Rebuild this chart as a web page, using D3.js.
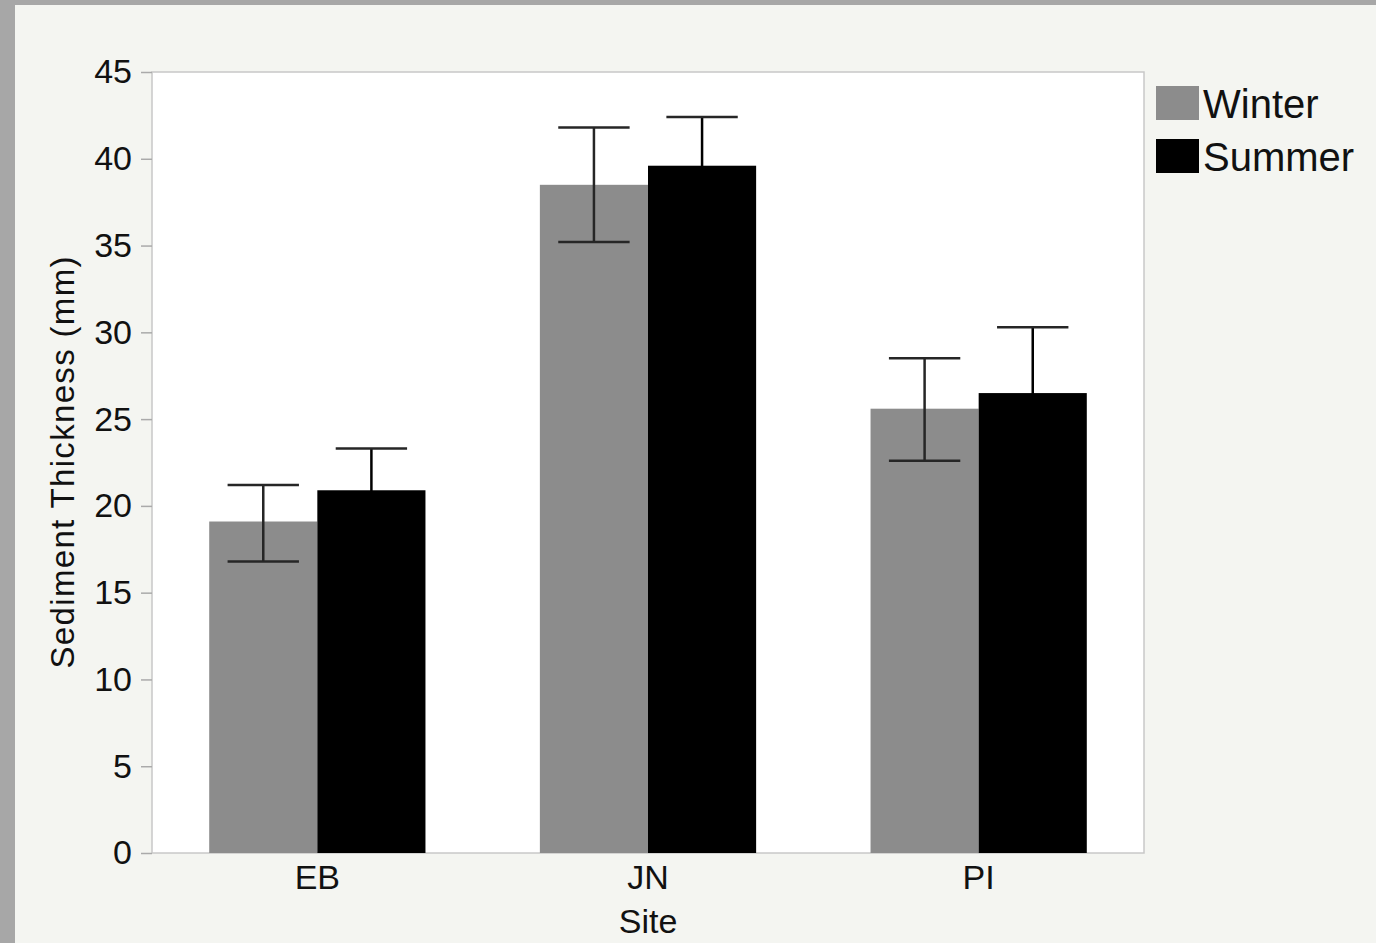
<!DOCTYPE html>
<html>
<head>
<meta charset="utf-8">
<script src="https://cdn.jsdelivr.net/npm/d3@7"></script>
<style>
  body { margin: 0; background: #a7a7a7; }
  .frame { position: absolute; left: 15px; top: 5px; width: 1361px; height: 938px; background: #f4f5f1; }
  text { font-family: "Liberation Sans", Arial, sans-serif; fill: #111; }
</style>
</head>
<body>
<div class="frame"></div>
<div class="canvas" style="position:absolute;left:0;top:0;"></div>
<script>
const sites = ["EB", "JN", "PI"];
const seasons = ["Winter", "Summer"];
const winterMean = [19.1, 38.5, 25.6];
const winterLow = [16.8, 35.2, 22.6];
const winterHigh = [21.2, 41.8, 28.5];
const summerMean = [20.9, 39.6, 26.5];
const summerLow = [18.5, 36.8, 22.8];
const summerHigh = [23.3, 42.4, 30.3];
const yTicks = [0, 5, 10, 15, 20, 25, 30, 35, 40, 45];

const colors = { Winter: "#8c8c8c", Summer: "#000000" };

const width = 1376, height = 943;
const margin = { top: 72, right: 232, bottom: 90, left: 152 };
const graphWidth = width - margin.left - margin.right;
const graphHeight = height - margin.top - margin.bottom;

const svg = d3.select(".canvas").append("svg")
  .attr("width", width)
  .attr("height", height);

const graph = svg.append("g")
  .attr("transform", `translate(${margin.left}, ${margin.top})`);

// build rows from arrays
const data = sites.map((s, i) => ({
  site: s,
  values: [
    { season: "Winter", mean: winterMean[i], low: winterLow[i], high: winterHigh[i] },
    { season: "Summer", mean: summerMean[i], low: summerLow[i], high: summerHigh[i] },
  ],
}));

const x0 = d3.scaleBand().domain(sites).range([0, graphWidth]).paddingInner(0.346).paddingOuter(0.173);
const x1 = d3.scaleBand().domain(seasons).range([0, x0.bandwidth()]);
const y = d3.scaleLinear().domain([0, 45]).range([graphHeight, 0]);

// plot background
graph.append("rect")
  .attr("width", graphWidth)
  .attr("height", graphHeight)
  .attr("fill", "#ffffff")
  .attr("stroke", "#c8c8c8")
  .attr("stroke-width", 1.5);

// bars
const groups = graph.selectAll(".site").data(data).enter().append("g")
  .attr("transform", (d) => `translate(${x0(d.site)}, 0)`);

groups.selectAll("rect").data((d) => d.values).enter().append("rect")
  .attr("x", (d) => x1(d.season))
  .attr("y", (d) => y(d.mean))
  .attr("width", x1.bandwidth())
  .attr("height", (d) => graphHeight - y(d.mean))
  .attr("fill", (d) => colors[d.season]);

// error bars (black on the summer bars so the lower half disappears)
const capW = x1.bandwidth() * 0.33;
const err = groups.selectAll(".err").data((d) => d.values).enter().append("g")
  .attr("stroke", (d) => (d.season === "Summer" ? "#000" : "#262626"))
  .attr("stroke-width", 2.5);
err.append("line")
  .attr("x1", (d) => x1(d.season) + x1.bandwidth() / 2)
  .attr("x2", (d) => x1(d.season) + x1.bandwidth() / 2)
  .attr("y1", (d) => y(d.low))
  .attr("y2", (d) => y(d.high));
err.append("line")
  .attr("x1", (d) => x1(d.season) + x1.bandwidth() / 2 - capW)
  .attr("x2", (d) => x1(d.season) + x1.bandwidth() / 2 + capW)
  .attr("y1", (d) => y(d.high))
  .attr("y2", (d) => y(d.high))
  .attr("stroke", "#262626");
err.append("line")
  .attr("x1", (d) => x1(d.season) + x1.bandwidth() / 2 - capW)
  .attr("x2", (d) => x1(d.season) + x1.bandwidth() / 2 + capW)
  .attr("y1", (d) => y(d.low))
  .attr("y2", (d) => y(d.low));

// axes
const yAxis = graph.append("g")
  .call(d3.axisLeft(y).tickValues(yTicks).tickSize(11).tickPadding(9));
yAxis.select(".domain").remove();
yAxis.selectAll("line").attr("stroke", "#aaaaaa").attr("stroke-width", 1.5);
yAxis.selectAll("text").attr("font-size", 34).attr("fill", "#111");

const xAxis = graph.append("g")
  .attr("transform", `translate(0, ${graphHeight})`)
  .call(d3.axisBottom(x0).tickSize(0).tickPadding(12));
xAxis.select(".domain").remove();
xAxis.selectAll("text").attr("font-size", 34).attr("fill", "#111");

// axis titles
svg.append("text")
  .attr("transform", `translate(74, ${margin.top + graphHeight / 2 + 72 - 72}) rotate(-90)`)
  .attr("text-anchor", "middle")
  .attr("font-size", 33)
  .attr("textLength", 412)
  .attr("lengthAdjust", "spacing")
  .text("Sediment Thickness (mm)");

svg.append("text")
  .attr("x", margin.left + graphWidth / 2)
  .attr("y", 933)
  .attr("text-anchor", "middle")
  .attr("font-size", 34)
  .text("Site");

// legend
const legend = svg.append("g").attr("transform", "translate(1156, 86)");
const items = legend.selectAll("g").data(seasons).enter().append("g")
  .attr("transform", (d, i) => `translate(0, ${i * 53})`);
items.append("rect")
  .attr("width", 43)
  .attr("height", 34)
  .attr("fill", (d) => colors[d]);
items.append("text")
  .attr("x", 47)
  .attr("y", 32)
  .attr("font-size", 40)
  .text((d) => d);
</script>
</body>
</html>
